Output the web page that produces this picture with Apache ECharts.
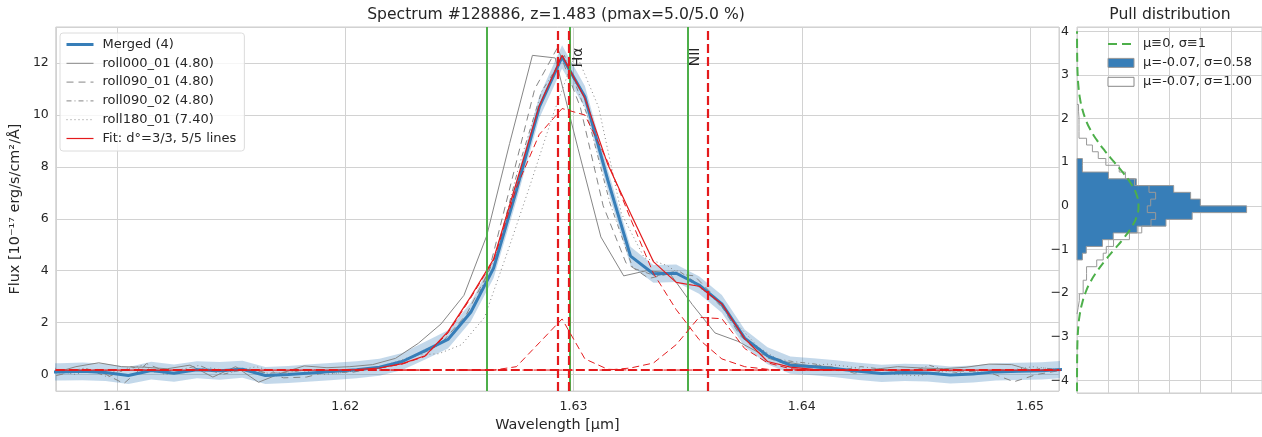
<!DOCTYPE html>
<html>
<head>
<meta charset="utf-8">
<title>Spectrum #128886</title>
<script src="https://cdn.jsdelivr.net/npm/echarts@6.0.0/dist/echarts.min.js"></script>
<style>
  html, body { margin: 0; padding: 0; background: #fff; }
  .echast_main { width: 1262px; height: 437px; }
</style>
</head>
<body>
<div class="echast_main"></div>
<script>
// 合并光谱 (Merged) 的波长网格，单位 µm
var wave = [1.6065, 1.6075, 1.6085, 1.6095, 1.6105, 1.6115, 1.6125, 1.6135, 1.6145, 1.6155,
  1.6165, 1.6175, 1.6185, 1.6195, 1.6205, 1.6215, 1.6225, 1.6235, 1.6245, 1.6255,
  1.6265, 1.6275, 1.6285, 1.6295, 1.6305, 1.6315, 1.6325, 1.6335, 1.6345, 1.6355,
  1.6365, 1.6375, 1.6385, 1.6395, 1.6405, 1.6415, 1.6425, 1.6435, 1.6445, 1.6455,
  1.6465, 1.6475, 1.6485, 1.6495, 1.6505, 1.6515];
// 合并光谱流量
var merged = [0.10, 0.10, 0.12, 0.08, -0.04, 0.15, 0.05, 0.18, 0.14, 0.20,
  -0.04, 0.00, 0.06, 0.12, 0.18, 0.28, 0.50, 0.92, 1.35, 2.40,
  4.10, 7.10, 10.30, 12.24, 10.70, 7.50, 4.56, 3.88, 3.90, 3.45,
  2.72, 1.40, 0.72, 0.36, 0.30, 0.22, 0.12, 0.04, 0.08, 0.06,
  -0.02, 0.02, 0.10, 0.12, 0.14, 0.20];
// 合并光谱误差 (1σ)
var mergedErr = [0.33, 0.33, 0.34, 0.33, 0.33, 0.34, 0.33, 0.33, 0.34, 0.33,
  0.33, 0.33, 0.33, 0.33, 0.33, 0.33, 0.33, 0.34, 0.35, 0.36,
  0.38, 0.40, 0.42, 0.45, 0.42, 0.40, 0.36, 0.34, 0.34, 0.34,
  0.34, 0.33, 0.33, 0.33, 0.33, 0.33, 0.33, 0.33, 0.33, 0.33,
  0.33, 0.33, 0.33, 0.33, 0.33, 0.33];
// 拟合曲线
var fit = [0.17, 0.17, 0.17, 0.17, 0.17, 0.17, 0.17, 0.17, 0.17, 0.17,
  0.17, 0.17, 0.17, 0.17, 0.19, 0.25, 0.42, 0.72, 1.65, 3.00,
  4.45, 7.40, 10.35, 12.30, 10.65, 8.10, 6.20, 4.35, 3.55, 3.40,
  2.72, 1.38, 0.50, 0.28, 0.20, 0.18, 0.17, 0.17, 0.17, 0.17,
  0.17, 0.17, 0.17, 0.17, 0.17, 0.17];

// 各拟合分量 (含连续谱)
var compWave = [1.6215, 1.6225, 1.6235, 1.6245, 1.6255, 1.6265, 1.6275, 1.6285, 1.6295, 1.6305, 1.6315,
  1.6325, 1.6335, 1.6345, 1.6355, 1.6365, 1.6375, 1.6385, 1.6395, 1.6405, 1.6415, 1.6425];
var compNarrow = [0.17, 0.17, 0.17, 0.17, 0.17, 0.17, 0.30, 1.22, 2.14, 0.60, 0.20,
  0.17, 0.17, 0.17, 0.17, 0.17, 0.17, 0.17, 0.17, 0.17, 0.17, 0.17];
var compBroad = [0.25, 0.40, 0.70, 1.60, 2.95, 4.40, 7.20, 9.25, 10.25, 10.00, 8.20,
  6.00, 3.90, 2.50, 1.35, 0.60, 0.30, 0.20, 0.17, 0.17, 0.17, 0.17];
var compNII = [0.17, 0.17, 0.17, 0.17, 0.17, 0.17, 0.17, 0.17, 0.17, 0.17, 0.17,
  0.25, 0.44, 1.15, 2.20, 2.15, 1.00, 0.45, 0.22, 0.17, 0.17, 0.17];
var continuum = 0.17;

// 单次曝光
var wave000 = [1.6062, 1.6072, 1.6082, 1.6092, 1.6102, 1.6112, 1.6122, 1.6132, 1.6142, 1.6152,
  1.6162, 1.6172, 1.6182, 1.6192, 1.6202, 1.6212, 1.6222, 1.6232, 1.6242, 1.6252,
  1.6262, 1.6272, 1.6282, 1.6292, 1.6302, 1.6312, 1.6322, 1.6332, 1.6342, 1.6352,
  1.6362, 1.6372, 1.6382, 1.6392, 1.6402, 1.6412, 1.6422, 1.6432, 1.6442, 1.6452,
  1.6462, 1.6472, 1.6482, 1.6492, 1.6502, 1.6512, 1.6522];
var roll000 = [0.00, 0.05, 0.30, 0.45, 0.30, 0.28, 0.22, 0.36, -0.10, 0.30,
  -0.30, 0.05, 0.33, 0.26, 0.30, 0.38, 0.62, 1.20, 1.95, 3.05,
  5.35, 8.90, 12.30, 12.20, 8.70, 5.30, 3.80, 4.00, 3.92, 2.70,
  1.60, 1.28, 0.80, 0.50, 0.35, 0.30, 0.15, 0.20, 0.30, 0.25,
  0.22, 0.28, 0.40, 0.38, 0.12, 0.20, 0.20];
var wave090a = [1.6063, 1.6073, 1.6083, 1.6093, 1.6103, 1.6113, 1.6123, 1.6133, 1.6143, 1.6153,
  1.6163, 1.6173, 1.6183, 1.6193, 1.6203, 1.6213, 1.6223, 1.6233, 1.6243, 1.6253,
  1.6263, 1.6273, 1.6283, 1.6293, 1.6303, 1.6313, 1.6323, 1.6333, 1.6343, 1.6353,
  1.6363, 1.6373, 1.6383, 1.6393, 1.6403, 1.6413, 1.6423, 1.6433, 1.6443, 1.6453,
  1.6463, 1.6473, 1.6483, 1.6493, 1.6503, 1.6513, 1.6523];
var roll090a = [0.10, -0.05, 0.15, 0.10, -0.35, 0.42, 0.05, 0.20, 0.10, 0.25,
  0.12, -0.13, -0.10, 0.12, 0.08, 0.25, 0.45, 0.80, 1.30, 2.30,
  4.00, 7.50, 11.00, 12.60, 10.30, 6.50, 4.30, 3.70, 3.90, 3.80,
  2.90, 1.50, 0.70, 0.40, 0.35, 0.30, 0.05, 0.20, 0.10, 0.00,
  0.15, 0.12, 0.05, -0.28, 0.00, 0.15, 0.20];
var wave090b = [1.6066, 1.6076, 1.6086, 1.6096, 1.6106, 1.6116, 1.6126, 1.6136, 1.6146, 1.6156,
  1.6166, 1.6176, 1.6186, 1.6196, 1.6206, 1.6216, 1.6226, 1.6236, 1.6246, 1.6256,
  1.6266, 1.6276, 1.6286, 1.6296, 1.6306, 1.6316, 1.6326, 1.6336, 1.6346, 1.6356,
  1.6366, 1.6376, 1.6386, 1.6396, 1.6406, 1.6416, 1.6426, 1.6436, 1.6446, 1.6456,
  1.6466, 1.6476, 1.6486, 1.6496, 1.6506, 1.6516, 1.6526];
var roll090b = [0.20, 0.05, 0.25, -0.10, 0.30, 0.10, 0.15, 0.35, 0.00, 0.20,
  0.05, 0.10, 0.20, 0.05, 0.15, 0.30, 0.55, 0.90, 1.40, 2.60,
  4.60, 8.00, 10.90, 12.30, 10.00, 6.60, 4.10, 3.80, 4.00, 3.40,
  2.50, 1.30, 0.65, 0.50, 0.40, 0.15, 0.30, 0.20, 0.05, 0.35,
  0.10, 0.00, 0.20, 0.10, 0.25, 0.15, 0.20];
var wave180 = [1.6061, 1.6071, 1.6081, 1.6091, 1.6101, 1.6111, 1.6121, 1.6131, 1.6141, 1.6151,
  1.6161, 1.6171, 1.6181, 1.6191, 1.6201, 1.6211, 1.6221, 1.6231, 1.6241, 1.6251,
  1.6261, 1.6271, 1.6281, 1.6291, 1.6301, 1.6311, 1.6321, 1.6331, 1.6341, 1.6351,
  1.6361, 1.6371, 1.6381, 1.6391, 1.6401, 1.6411, 1.6421, 1.6431, 1.6441, 1.6451,
  1.6461, 1.6471, 1.6481, 1.6491, 1.6501, 1.6511, 1.6521];
var roll180 = [0.10, 0.30, 0.00, 0.20, 0.10, 0.35, 0.00, 0.15, 0.25, 0.10,
  0.30, 0.05, 0.15, 0.00, 0.10, 0.20, 0.45, 0.75, 0.80, 1.15,
  2.20, 4.70, 7.30, 10.00, 12.40, 10.30, 6.20, 4.50, 4.20, 3.60,
  3.00, 2.00, 1.05, 0.50, 0.30, 0.40, 0.30, 0.10, 0.00, -0.05,
  0.10, 0.20, 0.05, 0.15, 0.30, 0.20, 0.10];

// 谱线位置：绿色为期望位置，红色为拟合位置
var lineWaves = [1.6262, 1.62985, 1.6350];
var lineNames = ['', 'Hα', 'NII'];
var fitWaves = [1.6293, 1.62981, 1.63586];
var labelFlux = 12.6;

// 残差分布 (pull)
var pullEdges = [-1.24, -1.085, -0.93, -0.775, -0.62, -0.465, -0.31, -0.155, 0,
  0.155, 0.31, 0.465, 0.62, 0.775, 0.93, 1.085];
var pullDens = [0.035, 0.06, 0.165, 0.235, 0.39, 0.577, 0.747, 1.10,
  0.80, 0.737, 0.627, 0.385, 0.204, 0.035, 0.035];
var normEdges = [-2.48, -2.325, -2.17, -2.015, -1.86, -1.705, -1.55, -1.395, -1.24, -1.085,
  -0.93, -0.775, -0.62, -0.465, -0.31, -0.155, 0, 0.155, 0.31, 0.465,
  0.62, 0.775, 0.93, 1.085, 1.24, 1.395, 1.55, 1.705, 1.86, 2.015, 2.17, 2.325];
var normDens = [0.008, 0.015, 0.015, 0.04, 0.04, 0.062, 0.062, 0.128, 0.17, 0.19,
  0.237, 0.34, 0.42, 0.48, 0.51, 0.456, 0.478, 0.51, 0.467, 0.373,
  0.314, 0.274, 0.187, 0.138, 0.10, 0.062, 0.013, 0.013, 0.013, 0.01, 0.01];
var gaussPull = [-4.25, -4.0, -3.75, -3.5, -3.25, -3.0, -2.75, -2.5, -2.25, -2.0, -1.75, -1.5,
  -1.25, -1.0, -0.75, -0.5, -0.25, 0, 0.25, 0.5, 0.75, 1.0, 1.25, 1.5, 1.75, 2.0,
  2.25, 2.5, 2.75, 3.0, 3.25, 3.5, 3.75, 4.0];
var gaussDens = [0.0000, 0.0001, 0.0004, 0.0009, 0.002, 0.0044, 0.009, 0.0175, 0.032, 0.054, 0.086, 0.13,
  0.183, 0.242, 0.301, 0.352, 0.387, 0.399, 0.387, 0.352, 0.301, 0.242, 0.183, 0.13, 0.086, 0.054,
  0.032, 0.0175, 0.009, 0.0044, 0.002, 0.0009, 0.0004, 0.0001];

var FONT = 'DejaVu Sans';
var TXT = '#262626';
var GRIDC = '#d2d2d2';
var BLUE = '#377eb8';
var RED = '#e41a1c';
var GREEN = '#4daf4a';
var GRAY = '#868686';

function pairs(xs, ys) {
  var out = [];
  for (var i = 0; i < xs.length; i++) out.push([xs[i], ys[i]]);
  return out;
}
// 横向直方图的阶梯轮廓 (x = 密度, y = pull)
function stepOutline(edges, dens) {
  var out = [[0, edges[0]]];
  for (var i = 0; i < dens.length; i++) {
    out.push([dens[i], edges[i]]);
    out.push([dens[i], edges[i + 1]]);
  }
  out.push([0, edges[edges.length - 1]]);
  return out;
}
function minus(v) {
  return v < 0 ? '\u2212' + (-v) : String(v);
}

var chart = echarts.init(document.querySelector('.echast_main'));

var thinLine = function (name, xs, ys, type) {
  return {
    name: name, type: 'line', xAxisIndex: 0, yAxisIndex: 0,
    data: pairs(xs, ys), symbol: 'none', z: 2,
    itemStyle: { color: GRAY },
    lineStyle: { color: GRAY, width: 1, type: type }
  };
};
var compLine = function (name, ys) {
  return {
    name: name, type: 'line', xAxisIndex: 0, yAxisIndex: 0,
    data: pairs(compWave, ys), symbol: 'none', z: 5,
    lineStyle: { color: RED, width: 1, type: [7, 4] }
  };
};
// 图例里的线条不要圆点
var noDot = { opacity: 0 };

var option = {
  animation: false,
  textStyle: { fontFamily: FONT },
  title: [{
    text: 'Spectrum #128886, z=1.483 (pmax=5.0/5.0 %)',
    left: 556, top: 7, padding: 0, textAlign: 'center',
    textStyle: { fontSize: 15.6, fontWeight: 'normal', color: TXT, fontFamily: FONT }
  }, {
    text: 'Pull distribution',
    left: 1170, top: 7, padding: 0, textAlign: 'center',
    textStyle: { fontSize: 15.6, fontWeight: 'normal', color: TXT, fontFamily: FONT }
  }],
  legend: [{
    // 主图图例
    orient: 'vertical', left: 60, top: 33,
    padding: [5, 8, 6, 5], itemWidth: 27, itemHeight: 14, itemGap: 5.8,
    backgroundColor: 'rgba(255,255,255,0.8)', borderColor: '#dcdcdc', borderWidth: 1, borderRadius: 3,
    selectedMode: false,
    itemStyle: noDot,
    textStyle: { fontSize: 13, color: TXT, fontFamily: FONT, padding: [0, 0, 0, 4] },
    data: [
      { name: 'Merged (4)', lineStyle: { width: 3 } },
      { name: 'roll000_01 (4.80)', lineStyle: { width: 1 } },
      { name: 'roll090_01 (4.80)', lineStyle: { width: 1 } },
      { name: 'roll090_02 (4.80)', lineStyle: { width: 1 } },
      { name: 'roll180_01 (7.40)', lineStyle: { width: 1 } },
      { name: 'Fit: d°=3/3, 5/5 lines', lineStyle: { width: 1.2 } }
    ]
  }, {
    // pull 图例
    orient: 'vertical', left: 1107, top: 37.5,
    padding: 0, itemWidth: 26, itemHeight: 9, itemGap: 5.9,
    selectedMode: false,
    textStyle: { fontSize: 13, color: TXT, fontFamily: FONT, padding: [0, 0, 0, 4] },
    data: [
      { name: 'μ≡0, σ≡1', itemStyle: noDot },
      { name: 'μ=-0.07, σ=0.58', icon: 'rect', itemStyle: { color: BLUE, borderColor: '#999', borderWidth: 1 } },
      { name: 'μ=-0.07, σ=1.00', icon: 'rect', itemStyle: { color: '#fff', borderColor: '#888', borderWidth: 1 } }
    ]
  }],
  grid: [
    { left: 54, right: 203, top: 27, bottom: 44, show: true, borderColor: '#cccccc', borderWidth: 1 },
    { left: 1077, right: 0, top: 27, bottom: 44, show: true, borderColor: '#cccccc', borderWidth: 1 }
  ],
  xAxis: [{
    gridIndex: 0, type: 'value', min: 1.60732, max: 1.65127, splitNumber: 4,
    name: 'Wavelength [µm]', nameLocation: 'middle', nameGap: 26,
    nameTextStyle: { fontSize: 14.4, color: TXT, fontFamily: FONT },
    axisLine: { show: false }, axisTick: { show: false },
    axisLabel: {
      fontSize: 12.5, color: TXT, margin: 9, showMinLabel: false, showMaxLabel: false,
      formatter: function (v) { return v.toFixed(2); }
    },
    splitLine: { lineStyle: { color: GRIDC, width: 1 } }
  }, {
    gridIndex: 1, type: 'value', min: 0, max: 1.2, interval: 0.2,
    axisLine: { show: false }, axisTick: { show: false }, axisLabel: { show: false },
    splitLine: { lineStyle: { color: GRIDC, width: 1 } }
  }],
  yAxis: [{
    gridIndex: 0, type: 'value', min: -0.641, max: 13.393, splitNumber: 7,
    name: 'Flux [10⁻¹⁷ erg/s/cm²/Å]', nameLocation: 'middle', nameGap: 30,
    nameTextStyle: { fontSize: 14.4, color: TXT, fontFamily: FONT },
    axisLine: { show: false }, axisTick: { show: false },
    axisLabel: { fontSize: 12.5, color: TXT, margin: 7, showMinLabel: false, showMaxLabel: false },
    splitLine: { lineStyle: { color: GRIDC, width: 1 } }
  }, {
    gridIndex: 1, type: 'value', min: -4.29, max: 4.10, splitNumber: 8,
    axisLine: { show: false }, axisTick: { show: false },
    axisLabel: { fontSize: 12.5, color: TXT, margin: 8, showMinLabel: false, showMaxLabel: false, formatter: minus },
    splitLine: { lineStyle: { color: GRIDC, width: 1 } }
  }],
  series: [
    // 误差带
    {
      name: 'band', type: 'custom', xAxisIndex: 0, yAxisIndex: 0, z: 1, clip: true,
      data: [[1.63, 5]],
      renderItem: function (params, api) {
        var up = [], lo = [];
        for (var i = 0; i < wave.length; i++) {
          up.push(api.coord([wave[i], merged[i] + mergedErr[i]]));
          lo.unshift(api.coord([wave[i], merged[i] - mergedErr[i]]));
        }
        return { type: 'polygon', shape: { points: up.concat(lo) }, style: { fill: 'rgba(55,126,184,0.3)' } };
      }
    },
    thinLine('roll000_01 (4.80)', wave000, roll000, 'solid'),
    thinLine('roll090_01 (4.80)', wave090a, roll090a, [7, 5]),
    thinLine('roll090_02 (4.80)', wave090b, roll090b, [5, 3, 1, 3]),
    thinLine('roll180_01 (7.40)', wave180, roll180, [1, 3]),
    {
      name: 'Merged (4)', type: 'line', xAxisIndex: 0, yAxisIndex: 0,
      data: pairs(wave, merged), symbol: 'none', z: 3,
      itemStyle: { color: BLUE },
      lineStyle: { color: BLUE, width: 3 }
    },
    {
      name: 'Fit: d°=3/3, 5/5 lines', type: 'line', xAxisIndex: 0, yAxisIndex: 0,
      data: pairs(wave, fit), symbol: 'none', z: 4,
      itemStyle: { color: RED },
      lineStyle: { color: RED, width: 1.2 }
    },
    compLine('comp_narrow', compNarrow),
    compLine('comp_broad', compBroad),
    compLine('comp_nii', compNII),
    // 期望谱线位置 (绿)
    {
      name: 'expected', type: 'line', xAxisIndex: 0, yAxisIndex: 0, data: [], z: 6,
      markLine: {
        silent: true, symbol: ['none', 'none'], label: { show: false }, animation: false, precision: 6,
        lineStyle: { color: GREEN, width: 2, type: 'solid' },
        data: lineWaves.map(function (w) { return { xAxis: w }; })
      }
    },
    // 拟合谱线位置与连续谱 (红)
    {
      name: 'fitted', type: 'line', xAxisIndex: 0, yAxisIndex: 0, data: [], z: 7,
      markLine: {
        silent: true, symbol: ['none', 'none'], label: { show: false }, animation: false, precision: 6,
        lineStyle: { color: RED, width: 2.2, type: [9, 4] },
        data: fitWaves.map(function (w) { return { xAxis: w }; }).concat([{ yAxis: continuum }])
      }
    },
    // pull 直方图
    {
      name: 'μ=-0.07, σ=0.58', type: 'custom', xAxisIndex: 1, yAxisIndex: 1, z: 2,
      data: [[0.5, 0]],
      renderItem: function (params, api) {
        var pts = stepOutline(pullEdges, pullDens).map(function (p) { return api.coord(p); });
        return { type: 'polygon', shape: { points: pts }, style: { fill: BLUE, stroke: '#999', lineWidth: 1 } };
      }
    },
    {
      name: 'μ=-0.07, σ=1.00', type: 'line', xAxisIndex: 1, yAxisIndex: 1, z: 3,
      data: stepOutline(normEdges, normDens), symbol: 'none',
      itemStyle: { color: '#fff' },
      lineStyle: { color: '#999', width: 1 }
    },
    {
      name: 'μ≡0, σ≡1', type: 'line', xAxisIndex: 1, yAxisIndex: 1, z: 4,
      data: pairs(gaussDens, gaussPull), symbol: 'none', smooth: true,
      itemStyle: { color: GREEN },
      lineStyle: { color: GREEN, width: 2, type: [9, 5] }
    }
  ]
};
chart.setOption(option);

// 谱线名称，竖排放在绿线右侧
var labels = [];
for (var i = 0; i < lineWaves.length; i++) {
  if (!lineNames[i]) continue;
  var p = chart.convertToPixel({ gridIndex: 0 }, [lineWaves[i], labelFlux]);
  labels.push({
    type: 'text', x: p[0] + 1, y: p[1], rotation: Math.PI / 2, z: 100,
    style: { text: lineNames[i], fontSize: 14, fontFamily: FONT, fill: TXT, align: 'right', verticalAlign: 'top' }
  });
}
chart.setOption({ graphic: labels });
</script>
</body>
</html>
